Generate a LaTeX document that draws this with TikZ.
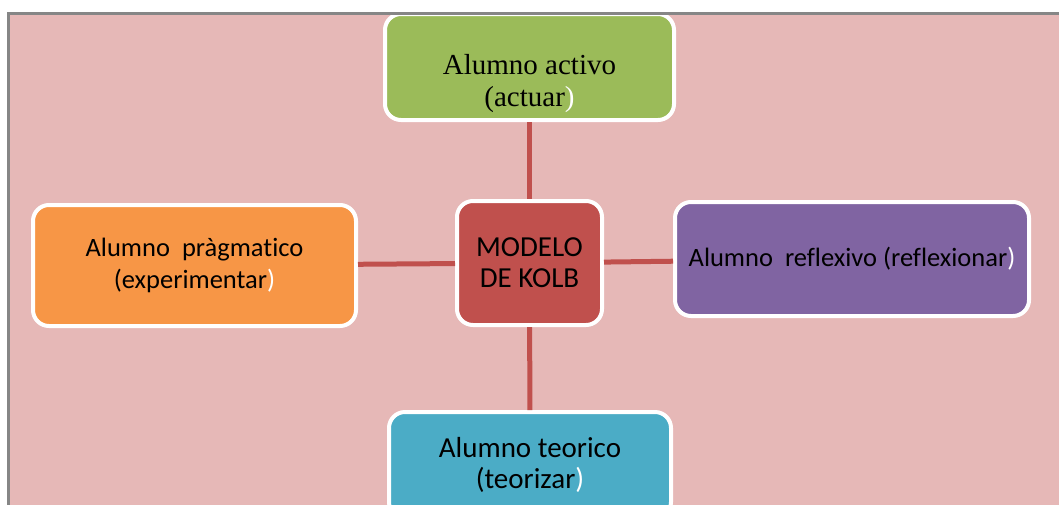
\documentclass[tikz,border=0pt]{standalone}
\usepackage{fontspec}
\setmainfont{Liberation Serif}
\setsansfont[Ligatures=NoCommon]{Carlito}

\definecolor{fondo}{HTML}{E6B8B7}
\definecolor{marco}{HTML}{868686}
\definecolor{verde}{HTML}{9BBB59}
\definecolor{naranja}{HTML}{F79646}
\definecolor{rojo}{HTML}{C0504D}
\definecolor{morado}{HTML}{8064A2}
\definecolor{azul}{HTML}{4BACC6}

\tikzset{
  caja/.style={draw=white, line width=4pt, rounded corners=16pt, align=center},
  enlace/.style={draw=rojo, line width=5pt}
}

\begin{document}
\begin{tikzpicture}[x=1pt,y=-1pt]

        \useasboundingbox (0,0) rectangle (1059,504);
        \clip (0,0) rectangle (1059,504);
        \fill[fondo] (8,13) rectangle (1062,510);

        \node (activo) [caja, fill=verde, minimum width=289pt, minimum height=106pt] at (529.5,67) {};
        \node (pragmatico) [caja, fill=naranja, minimum width=323pt, minimum height=121pt,
              font=\sffamily\fontsize{26.5}{32}\selectfont] at (194.5,265.5)
              {Alumno \ pràgmatico\\(experimentar\textcolor{white}{)}};
        \node (modelo) [caja, fill=rojo, minimum width=145pt, minimum height=124pt,
              font=\sffamily\fontsize{29}{31}\selectfont] at (529.5,263) {MODELO\\DE KOLB};
        \node (reflexivo) [caja, fill=morado, minimum width=354pt, minimum height=114pt,
              font=\sffamily\fontsize{26.5}{32}\selectfont] at (852,259)
              {Alumno \ reflexivo (reflexionar\textcolor{white}{)}};
        \node (teorico) [caja, fill=azul, minimum width=282pt, minimum height=106pt,
              font=\sffamily\fontsize{29}{31}\selectfont] at (530,465)
              {Alumno teorico\\(teorizar\textcolor{white}{)}};

        \node (activotxt) [align=center, font=\fontsize{29}{32}\selectfont] at (529.5,84)
              {Alumno activo\\(actuar\textcolor{white}{)}};

        \draw[enlace] (activo) -- (modelo);
        \draw[enlace] (modelo) -- (teorico);
        \draw[enlace] (pragmatico) -- (modelo);
        \draw[enlace] (modelo) -- (reflexivo);

        \draw[marco, line width=3pt] (8,520) -- (8,13) -- (1062,13);

\end{tikzpicture}
\end{document}
